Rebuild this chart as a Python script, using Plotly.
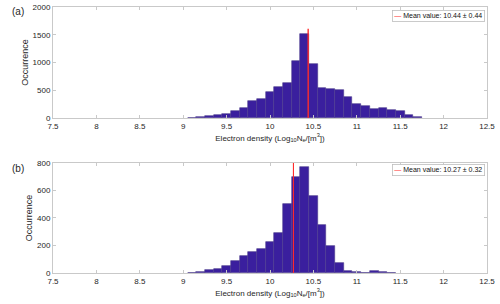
import plotly.graph_objects as go

# ---------------- data ----------------
# bin centres (bin width 0.1)
centers_a = [9.1, 9.2, 9.3, 9.4, 9.5, 9.6, 9.7, 9.8, 9.9, 10.0, 10.1, 10.2, 10.3, 10.4,
             10.5, 10.6, 10.7, 10.8, 10.9, 11.0, 11.1, 11.2, 11.3, 11.4, 11.5, 11.6, 11.7]
counts_a = [5, 12, 30, 48, 78, 132, 180, 312, 348, 468, 553, 637, 1021, 1508,
            973, 541, 523, 511, 372, 252, 210, 162, 174, 150, 120, 48, 18]
mean_a, std_a = 10.44, 0.44
mean_line_a = [0, 1610]

centers_b = [9.1, 9.2, 9.3, 9.4, 9.5, 9.6, 9.7, 9.8, 9.9, 10.0, 10.1, 10.2, 10.3, 10.4,
             10.5, 10.6, 10.7, 10.8, 10.9, 11.0, 11.1, 11.2, 11.3, 11.4]
counts_b = [3, 7, 24, 29, 53, 85, 126, 150, 175, 225, 291, 502, 698, 768,
            562, 349, 196, 70, 15, 5, 3, 12, 5, 2]
mean_b, std_b = 10.27, 0.32
mean_line_b = [0, 800]

bin_width = 0.1
x_range = [7.5, 12.5]
y_range_a = [0, 2000]
y_range_b = [0, 800]
panel_labels = ["(a)", "(b)"]
x_title = "Electron density (Log<sub>10</sub>N<sub>e</sub>/[m<sup>3</sup>])"
y_title = "Occurrence"

# ---------------- style ----------------
FONT = "Liberation Sans, Arial, Helvetica, sans-serif"
BAR = "#3a1f9e"
BAR_EDGE = "#4b3a8c"
RED = "#ff2a2a"
FRAME = "#c9c9c9"
TXT = "#262626"

fig = go.Figure()

fig.add_trace(go.Bar(x=centers_a, y=counts_a, width=bin_width,
                     marker=dict(color=BAR, line=dict(color=BAR_EDGE, width=0.6)),
                     xaxis="x", yaxis="y", showlegend=False))
fig.add_trace(go.Scatter(x=[mean_a, mean_a], y=mean_line_a, mode="lines",
                         line=dict(color=RED, width=1.6), opacity=0.85,
                         xaxis="x", yaxis="y", showlegend=False))
fig.add_trace(go.Bar(x=centers_b, y=counts_b, width=bin_width,
                     marker=dict(color=BAR, line=dict(color=BAR_EDGE, width=0.6)),
                     xaxis="x2", yaxis="y2", showlegend=False))
fig.add_trace(go.Scatter(x=[mean_b, mean_b], y=mean_line_b, mode="lines",
                         line=dict(color=RED, width=1.1),
                         xaxis="x2", yaxis="y2", showlegend=False))

def xaxis(anchor):
    return dict(domain=[0.106, 0.974], range=x_range, dtick=0.5, tick0=7.5,
                showgrid=False, zeroline=False, showline=True, linecolor=FRAME,
                linewidth=1, mirror="ticks", ticks="inside", ticklen=3,
                tickcolor=FRAME, tickfont=dict(size=8, color=TXT, family=FONT),
                title=dict(text=x_title, font=dict(size=8, color=TXT, family=FONT),
                           standoff=5),
                anchor=anchor, automargin=False)

def yaxis(domain, rng, dtick, anchor):
    return dict(domain=domain, range=rng, dtick=dtick, showgrid=False,
                zeroline=False, showline=True, linecolor=FRAME, linewidth=1,
                mirror="ticks", ticks="inside", ticklen=3, tickcolor=FRAME,
                tickfont=dict(size=8, color=TXT, family=FONT),
                title=dict(text=y_title, font=dict(size=9, color=TXT, family=FONT),
                           standoff=2),
                anchor=anchor, automargin=False)

fig.update_layout(
    width=500, height=304,
    margin=dict(l=0, r=0, t=0, b=0),
    paper_bgcolor="white", plot_bgcolor="white",
    bargap=0,
    font=dict(family=FONT, color=TXT),
    xaxis=xaxis("y"),
    yaxis=yaxis([0.612, 0.977], y_range_a, 500, "x"),
    xaxis2=xaxis("y2"),
    yaxis2=yaxis([0.102, 0.464], y_range_b, 200, "x2"),
)

# panel labels
fig.add_annotation(text=panel_labels[0], x=0.02, y=1 - 11 / 304, xref="paper", yref="paper",
                   showarrow=False, xanchor="left", yanchor="middle",
                   font=dict(size=10, color=TXT, family=FONT))
fig.add_annotation(text=panel_labels[1], x=0.02, y=1 - 168 / 304, xref="paper", yref="paper",
                   showarrow=False, xanchor="left", yanchor="middle",
                   font=dict(size=10, color=TXT, family=FONT))

# legend boxes
for mean, std, ytop in [(mean_a, std_a, 1 - 9.5 / 304), (mean_b, std_b, 1 - 164 / 304)]:
    fig.add_annotation(
        text=f"<span style='color:{RED}'>\u2014</span> Mean value: {mean:.2f} \u00b1 {std:.2f}",
        x=0.970, y=ytop, xref="paper", yref="paper", showarrow=False,
        xanchor="right", yanchor="top", bgcolor="white", bordercolor="#bdbdbd",
        borderwidth=0.8, borderpad=1.5,
        font=dict(size=7, color="#111111", family=FONT))

fig.write_html("out.html",
               config={"displayModeBar": False},
               post_script="document.body.style.margin='0px';document.body.style.overflow='hidden';")
